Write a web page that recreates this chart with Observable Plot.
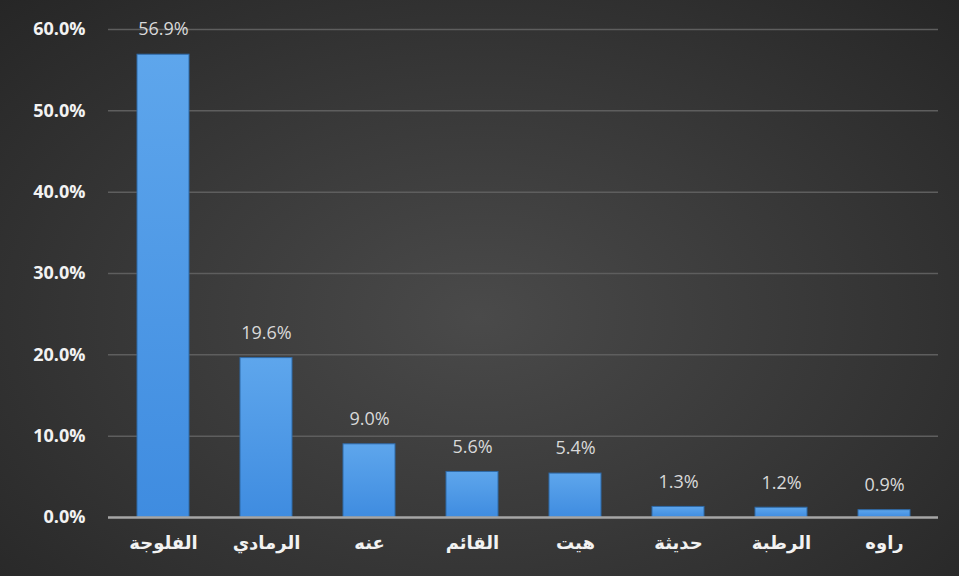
<!DOCTYPE html>
<html>
<head>
<meta charset="utf-8">
<script src="https://cdn.jsdelivr.net/npm/d3@7"></script>
<script src="https://cdn.jsdelivr.net/npm/@observablehq/plot@0.6"></script>
<style>
  html, body { margin: 0; padding: 0; }
  body { width: 959px; height: 576px; overflow: hidden;
    background: radial-gradient(ellipse at 50% 55%, #4a4a4a 0%, #3a3a3a 45%, #262626 100%); }
  #chart svg { display: block; }
</style>
</head>
<body>
<div id="chart"></div>
<script>
const categories = ["الفلوجة", "الرمادي", "عنه", "القائم", "هيت", "حديثة", "الرطبة", "راوه"];
const values = [0.569, 0.196, 0.090, 0.056, 0.054, 0.013, 0.012, 0.009];
const yTicks = [0, 0.1, 0.2, 0.3, 0.4, 0.5, 0.6];

const data = categories.map((c, i) => ({category: c, value: values[i]}));

const gradientDefs = () => {
  const defs = d3.create("svg:defs");
  const g = defs.append("linearGradient").attr("id", "barGrad")
    .attr("x1", 0).attr("y1", 0).attr("x2", 0).attr("y2", 1);
  g.append("stop").attr("offset", "0%").attr("stop-color", "#5ea6ec");
  g.append("stop").attr("offset", "100%").attr("stop-color", "#3f8ce0");
  return defs.node();
};

const chart = Plot.plot({
  width: 959,
  height: 576,
  marginLeft: 108,
  marginRight: 21,
  marginTop: 29,
  marginBottom: 59,
  style: {background: "transparent", overflow: "visible"},
  x: {domain: categories, paddingInner: 0.5, paddingOuter: 0.25, label: null},
  y: {domain: [0, 0.6], label: null},
  marks: [
    gradientDefs,
    Plot.gridY(yTicks.filter(d => d > 0), {stroke: "#5e5e5e", strokeOpacity: 1, strokeWidth: 1.5}),
    Plot.barY(data, {x: "category", y: "value", fill: "url(#barGrad)", stroke: "#2f6aa8", strokeWidth: 1}),
    Plot.ruleY([0], {stroke: "#a6a6a6", strokeWidth: 2.5}),
    Plot.text(data, {x: "category", y: "value", text: d => (d.value * 100).toFixed(1) + "%",
      dy: -25, fill: "#d9d9d9", fontSize: 18, fontFamily: "'Open Sans', 'DejaVu Sans', sans-serif"}),
    Plot.axisY({ticks: yTicks, tickSize: 0, tickPadding: 23, tickFormat: d => (d * 100).toFixed(1) + "%",
      fill: "#f2f2f2", fontSize: 18, fontWeight: "bold", fontFamily: "'Open Sans', 'DejaVu Sans', sans-serif"}),
    Plot.axisX({tickSize: 0, tickPadding: 19, fill: "#f2f2f2", fontSize: 18, fontWeight: "bold",
      fontFamily: "'DejaVu Sans', sans-serif"})
  ]
});
document.getElementById("chart").appendChild(chart);
</script>
</body>
</html>
